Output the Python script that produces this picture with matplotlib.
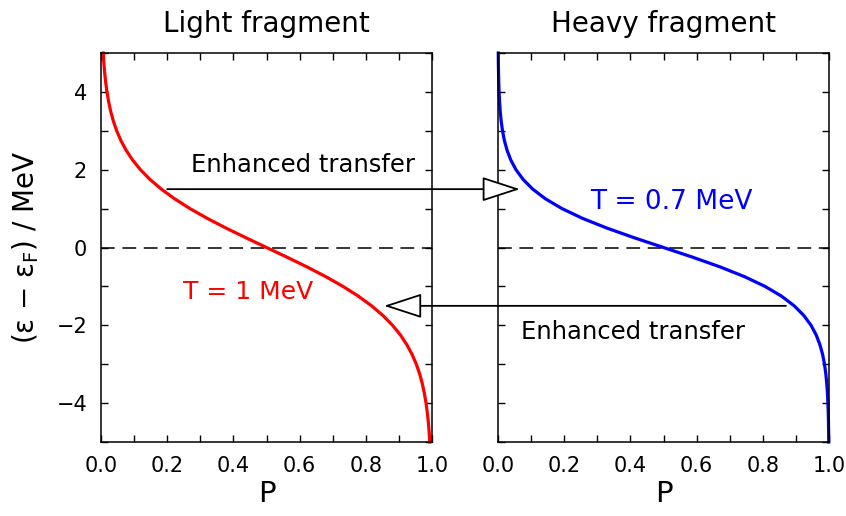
import matplotlib
matplotlib.use("Agg")
import matplotlib.pyplot as plt
from matplotlib.patches import ConnectionPatch
from matplotlib.ticker import MultipleLocator

plt.rcParams['font.family'] = ['DejaVu Sans']

# Energy (eps - eps_F) in MeV
energy = [5.0, 4.75, 4.5, 4.25, 4.0, 3.75, 3.5, 3.25, 3.0, 2.75, 2.5, 2.25, 2.0, 1.75,
          1.5, 1.25, 1.0, 0.75, 0.5, 0.25, 0.0, -0.25, -0.5, -0.75, -1.0, -1.25, -1.5,
          -1.75, -2.0, -2.25, -2.5, -2.75, -3.0, -3.25, -3.5, -3.75, -4.0, -4.25, -4.5,
          -4.75, -5.0]
# Occupation probability, light fragment (T = 1 MeV)
p_light = [0.0067, 0.0086, 0.0110, 0.0141, 0.0180, 0.0230, 0.0293, 0.0373, 0.0474, 0.0601,
           0.0759, 0.0953, 0.1192, 0.1480, 0.1824, 0.2227, 0.2689, 0.3208, 0.3775, 0.4378,
           0.5, 0.5622, 0.6225, 0.6792, 0.7311, 0.7773, 0.8176, 0.8520, 0.8808, 0.9047,
           0.9241, 0.9399, 0.9526, 0.9627, 0.9707, 0.9770, 0.9820, 0.9859, 0.9890, 0.9914,
           0.9933]
# Occupation probability, heavy fragment (T = 0.7 MeV)
p_heavy = [0.0008, 0.0011, 0.0016, 0.0023, 0.0033, 0.0047, 0.0067, 0.0096, 0.0136, 0.0193,
           0.0274, 0.0386, 0.0543, 0.0759, 0.1050, 0.1436, 0.1933, 0.2551, 0.3287, 0.4117,
           0.5, 0.5883, 0.6713, 0.7449, 0.8067, 0.8564, 0.8950, 0.9241, 0.9457, 0.9614,
           0.9726, 0.9807, 0.9864, 0.9904, 0.9933, 0.9953, 0.9967, 0.9977, 0.9984, 0.9989,
           0.9992]

titles = ["Light fragment", "Heavy fragment"]
labels = ["T = 1 MeV", "T = 0.7 MeV"]

fig = plt.figure(figsize=(8.46, 5.16), dpi=100)
ax1 = fig.add_axes([101/846, 1-442/516, 331/846, 389/516])
ax2 = fig.add_axes([498/846, 1-442/516, 331/846, 389/516])

for ax in (ax1, ax2):
    ax.set_xlim(0, 1)
    ax.set_ylim(-5, 5)
    ax.xaxis.set_major_locator(MultipleLocator(0.2))
    ax.xaxis.set_minor_locator(MultipleLocator(0.1))
    ax.yaxis.set_major_locator(MultipleLocator(2))
    ax.yaxis.set_minor_locator(MultipleLocator(1))
    ax.tick_params(which='both', direction='in', top=True, right=True,
                   length=5, width=1.0, labelsize=15, pad=10)
    for s in ax.spines.values():
        s.set_linewidth(1.1)
    ax.axhline(0, color='black', lw=1.1, ls=(0, (9, 5)))
    ax.set_xlabel("P", fontsize=21, labelpad=3)
    ax.xaxis.set_major_formatter(plt.FuncFormatter(lambda v, p: f"{v:.1f}"))

ax2.tick_params(labelleft=False)
ax1.yaxis.set_major_formatter(plt.FuncFormatter(lambda v, p: f"{v:g}".replace("-", "\u2212")))

ax1.plot(p_light, energy, color='#ff0000', lw=2.3, clip_on=False)
ax2.plot(p_heavy, energy, color='#0000ff', lw=2.3, clip_on=False)

ax1.set_title(titles[0], fontsize=20, pad=15)
ax2.set_title(titles[1], fontsize=20, pad=15)
ax1.set_ylabel("(ε − ε$_\\mathregular{F}$) / MeV", fontsize=20, labelpad=11)

ax1.text(0.444, -1.32, labels[0], color='#ff0000', fontsize=18, ha='center', va='baseline')
ax2.text(0.524, 0.99, labels[1], color='#0000ff', fontsize=19, ha='center', va='baseline')

ax1.text(0.61, 1.94, "Enhanced transfer", fontsize=17.5, ha='center', va='baseline')
ax2.text(0.409, -2.35, "Enhanced transfer", fontsize=17.5, ha='center', va='baseline')

style = "-|>,head_length=2.4,head_width=0.78"
a1 = ConnectionPatch(xyA=(0.2, 1.5), coordsA=ax1.transData,
                     xyB=(0.066, 1.5), coordsB=ax2.transData,
                     arrowstyle=style, mutation_scale=10, lw=1.3,
                     ec='black', fc='white', shrinkA=0, shrinkB=0, zorder=5)
a2 = ConnectionPatch(xyA=(0.87, -1.5), coordsA=ax2.transData,
                     xyB=(0.855, -1.5), coordsB=ax1.transData,
                     arrowstyle=style, mutation_scale=10, lw=1.3,
                     ec='black', fc='white', shrinkA=0, shrinkB=0, zorder=5)
fig.add_artist(a1)
fig.add_artist(a2)

fig.savefig("out.png", dpi=100)
